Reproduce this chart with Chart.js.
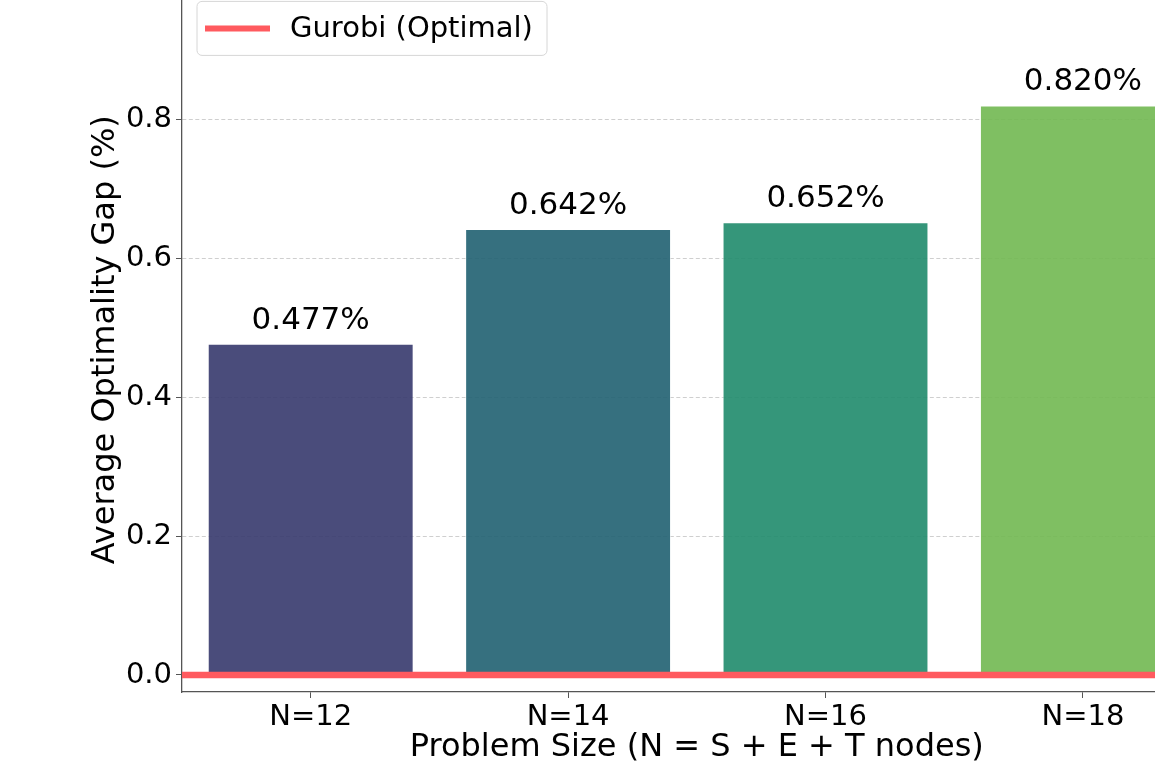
<!DOCTYPE html>
<html>
<head>
<meta charset="utf-8">
<script src="https://cdn.jsdelivr.net/npm/chart.js@4/dist/chart.umd.min.js"></script>
<style>
  html, body { margin: 0; padding: 0; background: #ffffff; overflow: hidden; width: 1155px; height: 773px; }
  #wrap { position: absolute; left: 0; top: -30px; width: 1300px; height: 803px; }
</style>
</head>
<body>
<div id="wrap"><canvas id="c" width="1300" height="803"></canvas></div>
<script>
// ---- data ----
const categories = ['N=12', 'N=14', 'N=16', 'N=18'];
const gapValues = [0.477, 0.642, 0.652, 0.820];
const barColors = ['rgba(54,56,109,0.9)', 'rgba(32,96,113,0.9)', 'rgba(31,139,107,0.9)', 'rgba(113,184,81,0.9)'];
const gurobiLabel = 'Gurobi (Optimal)';
const gurobiValue = 0;
const gurobiColor = '#FF5A5F';
const yTickStep = 0.2;
const yMin = -0.0245, yMax = 0.99;

const FONT = 'DejaVu Sans';
Chart.defaults.font.family = FONT;
Chart.defaults.color = '#000';

// horizontal reference line (axhline) at the Gurobi value, placed via the y scale
const refLine = {
  id: 'refLine',
  afterDatasetsDraw(chart) {
    const ctx = chart.ctx;
    const ca = chart.chartArea;
    const y = chart.scales.y.getPixelForValue(gurobiValue);
    ctx.save();
    ctx.beginPath();
    ctx.rect(ca.left, ca.top, ca.right - ca.left, ca.bottom - ca.top);
    ctx.clip();
    ctx.strokeStyle = gurobiColor;
    ctx.lineWidth = 6.5;
    ctx.beginPath();
    ctx.moveTo(ca.left, y);
    ctx.lineTo(ca.right, y);
    ctx.stroke();
    ctx.restore();
  }
};

const barLabels = {
  id: 'barLabels',
  afterDatasetsDraw(chart) {
    const ctx = chart.ctx;
    const meta = chart.getDatasetMeta(0);
    ctx.save();
    ctx.font = '31px "' + FONT + '"';
    ctx.fillStyle = '#000';
    ctx.textAlign = 'center';
    ctx.textBaseline = 'alphabetic';
    meta.data.forEach((bar, i) => {
      ctx.fillText(gapValues[i].toFixed(3) + '%', bar.x, bar.y - 15);
    });
    ctx.restore();
  }
};

const boxLegend = {
  id: 'boxLegend',
  afterDraw(chart) {
    const ctx = chart.ctx;
    const ca = chart.chartArea;
    const x = ca.left + 15, y = ca.top + 14, w = 350, h = 54, r = 5;
    ctx.save();
    ctx.beginPath();
    ctx.moveTo(x + r, y);
    ctx.lineTo(x + w - r, y); ctx.arcTo(x + w, y, x + w, y + r, r);
    ctx.lineTo(x + w, y + h - r); ctx.arcTo(x + w, y + h, x + w - r, y + h, r);
    ctx.lineTo(x + r, y + h); ctx.arcTo(x, y + h, x, y + h - r, r);
    ctx.lineTo(x, y + r); ctx.arcTo(x, y, x + r, y, r);
    ctx.closePath();
    ctx.fillStyle = 'rgba(255,255,255,0.8)';
    ctx.fill();
    ctx.strokeStyle = '#d6d6d6';
    ctx.lineWidth = 1;
    ctx.stroke();
    ctx.strokeStyle = gurobiColor;
    ctx.lineWidth = 6;
    ctx.beginPath();
    ctx.moveTo(x + 8, y + h / 2);
    ctx.lineTo(x + 73, y + h / 2);
    ctx.stroke();
    ctx.fillStyle = '#000';
    ctx.font = '29px "' + FONT + '"';
    ctx.textBaseline = 'middle';
    ctx.textAlign = 'left';
    ctx.fillText(gurobiLabel, x + 93, y + h / 2 + 1);
    ctx.restore();
  }
};

new Chart(document.getElementById('c'), {
  type: 'bar',
  data: {
    labels: categories,
    datasets: [
      {
        label: 'Average Optimality Gap',
        data: gapValues,
        backgroundColor: barColors,
        borderColor: 'rgba(255,255,255,0.6)',
        borderWidth: 1,
        barPercentage: 0.8,
        categoryPercentage: 1.0
      }
    ]
  },
  options: {
    responsive: false,
    animation: false,
    devicePixelRatio: 1,
    layout: { padding: { top: 17.4, right: 88.4, left: 0, bottom: 0 } },
    plugins: { legend: { display: false }, tooltip: { enabled: false } },
    scales: {
      x: {
        type: 'category',
        offset: true,
        grid: { offset: false, drawOnChartArea: false, drawTicks: true, tickLength: 6, tickColor: '#555', tickWidth: 1 },
        border: { display: true, color: '#555', width: 1.3 },
        ticks: { font: { size: 29 }, color: '#000', padding: 2, maxRotation: 0 },
        title: { display: true, text: 'Problem Size (N = S + E + T nodes)', font: { size: 32 }, color: '#000', padding: { top: 0, bottom: 6 } },
        afterFit(s) { s.height = 81; s.paddingLeft = 0; s.paddingRight = 0; }
      },
      y: {
        type: 'linear',
        min: yMin,
        max: yMax,
        grid: {
          color: (c) => (c.tick && Math.abs(c.tick.value) < 1e-9) ? 'rgba(0,0,0,0)' : '#cfcfcf',
          lineWidth: 1, drawTicks: true, tickLength: 6, tickColor: '#555', tickWidth: 1, tickBorderDash: []
        },
        border: { display: true, color: '#555', width: 1.3, dash: [4, 2.5] },
        ticks: { stepSize: yTickStep, includeBounds: false, font: { size: 29 }, color: '#000', padding: 4, callback: (v) => Number(v).toFixed(1) },
        title: { display: true, text: 'Average Optimality Gap (%)', font: { size: 32 }, color: '#000', padding: { top: 86, bottom: 0 } },
        afterFit(s) { s.width = 182; s.paddingTop = 0; s.paddingBottom = 0; }
      }
    }
  },
  plugins: [refLine, barLabels, boxLegend]
});
</script>
</body>
</html>
